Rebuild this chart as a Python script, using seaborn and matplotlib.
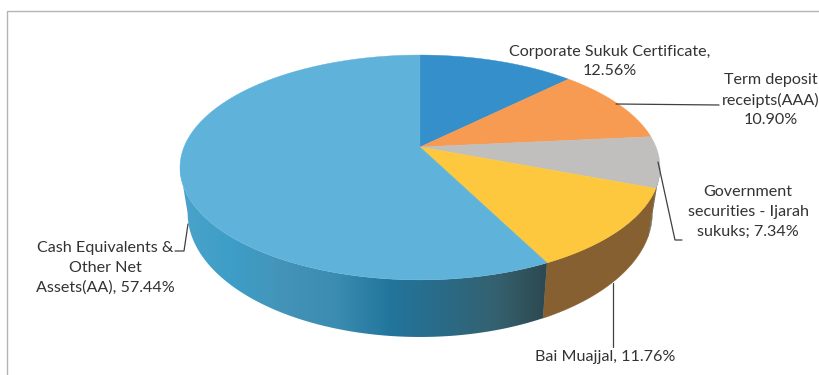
import numpy as np
import matplotlib
matplotlib.use("Agg")
import matplotlib.pyplot as plt
from matplotlib.colors import LinearSegmentedColormap
from matplotlib.patches import Polygon
import seaborn as sns

# Portfolio allocation, clockwise from twelve o'clock
categories = [
    "Corporate Sukuk Certificate,\n",
    "Term deposit\nreceipts(AAA)\n",
    "Government\nsecurities - Ijarah\nsukuks; ",
    "Bai Muajjal, ",
    "Cash Equivalents &\nOther Net\nAssets(AA), ",
]
shares = [12.56, 10.90, 7.34, 11.76, 57.44]
top_colors = ["#348fcb", "#f79a52", "#c0bfbd", "#fec83e", "#5fb3da"]
side_colors = ["#24648d", "#a9693a", "#77766f", "#866030", None]
wall_stops = ["#4ba3cb", "#3d9ec7", "#4493b8", "#3a8cb0", "#22759c", "#2a6b87", "#35616f", "#2c474e"]

label_anchor = [(610, 61.5), (770.5, 100), (748, 212), (605, 357), (105, 268)]
leaders = [
    None,
    [(616, 104), (719, 105)],
    [(658, 162), (675, 240), (682, 240)],
    [(613, 283), (613, 347)],
    [(188, 224), (184, 251), (175, 251)],
]

sns.set_theme(style="white")
plt.rcParams["font.family"] = ["Lato", "DejaVu Sans"]
palette = sns.color_palette(top_colors)

fig = plt.figure(figsize=(8.19, 3.75), dpi=100, facecolor="white")
ax = fig.add_axes([0, 0, 1, 1])
ax.axis("off")

TILT = 0.182
CX = 420.0


def rim(theta, half_width, half_height, apex_y):
    """Project circle angles (clockwise from top) onto the tilted disc."""
    depth = 1 + TILT * np.cos(theta)
    x = CX + half_width * np.sin(theta) / depth
    y = apex_y - half_height * np.cos(theta) / depth
    return x, y


def upper(theta):
    return rim(theta, 236.0, 108.7, 147.0)


def lower(theta):
    return rim(theta, 228.5, 119.9, 190.4)


edges = np.radians(np.concatenate([[0], np.cumsum(shares)]) * 3.6)
wall_map = LinearSegmentedColormap.from_list("wall", wall_stops)

# Outer wall: one band between the upper and lower rims per front slice,
# stopping at the tangent points so the outline never folds over itself
wall_from = [None, None, np.radians(100.5), edges[3], edges[4]]
wall_to = [None, None, edges[3], edges[4], np.radians(259.5)]
for i, side in enumerate(side_colors):
    if wall_from[i] is None:
        continue
    t = np.linspace(wall_from[i], wall_to[i], 240)
    ux, uy = upper(t)
    lx, ly = lower(t)
    outline = np.c_[np.r_[ux, lx[::-1]], np.r_[uy, ly[::-1]]]
    if side is None:
        # Shading runs left to right across the band
        band = Polygon(outline, closed=True, facecolor="none", edgecolor="none", transform=ax.transData)
        ax.add_patch(band)
        shade = ax.imshow(np.linspace(0, 1, 256)[None, :], cmap=wall_map, extent=(178, 550, 345, 150),
                          aspect="auto", zorder=2, interpolation="bilinear")
        shade.set_clip_path(band)
    else:
        ax.fill(outline[:, 0], outline[:, 1], color=side, lw=0.3, zorder=2)

# Upper face of each slice
for i, color in enumerate(palette):
    t = np.linspace(edges[i], edges[i + 1], 200)
    x, y = upper(t)
    ax.fill(np.r_[CX, x], np.r_[147.0, y], color=color, lw=0.3, zorder=3)

# Slice labels and their leader lines
for name, value, (lx, ly), leader in zip(categories, shares, label_anchor, leaders):
    ax.text(lx, ly, f"{name}{value:.2f}%", ha="center", va="center", fontsize=11.6,
            color="#333333", linespacing=1.5, zorder=5)
    if leader is not None:
        ax.plot(*zip(*leader), color="#404040", lw=0.9, zorder=4)

# Chart area border, cropped at the right and bottom
ax.plot([7, 7, 819], [375, 10.5, 10.5], color="#b4b4b4", lw=1.0, zorder=1)

ax.set_xlim(0, 819)
ax.set_ylim(375, 0)

fig.savefig("out.png", dpi=100)
